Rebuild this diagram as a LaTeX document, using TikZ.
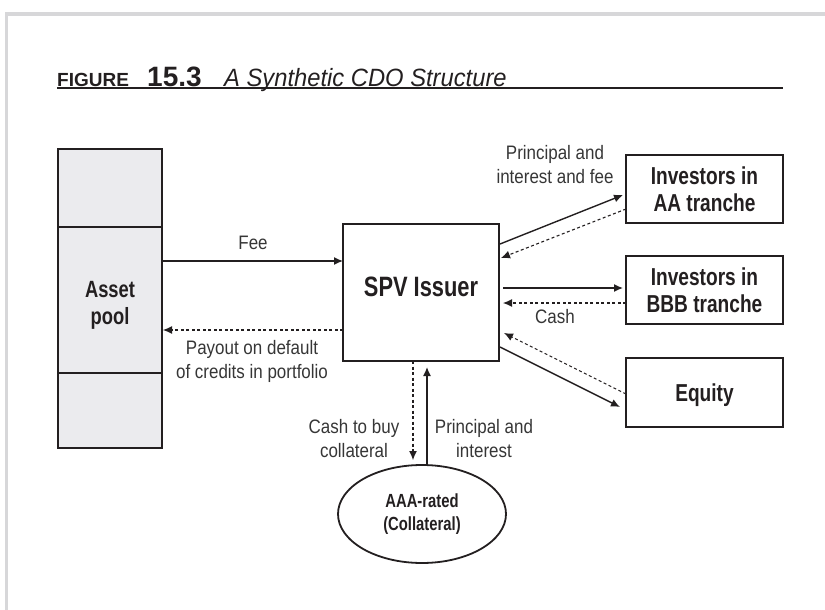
\documentclass[tikz,border=0pt]{standalone}
\usepackage{fontspec}
\setmainfont{Liberation Sans}
\newfontfamily\labfont[FakeStretch=0.87]{Liberation Sans}
\newfontfamily\bxfont[FakeStretch=0.78]{Liberation Sans}
\newfontfamily\ttlfont{Liberation Sans}
\newfontfamily\itfont[FakeStretch=0.95]{Liberation Sans}
\usetikzlibrary{arrows.meta,shapes.geometric}
\definecolor{ink}{HTML}{231F20}
\definecolor{labink}{HTML}{363636}
\definecolor{framegray}{HTML}{D7D7D9}
\definecolor{poolfill}{HTML}{EBEBEE}
\tikzset{
  box/.style={draw=ink, line width=1.8pt, rectangle, inner sep=0pt, outer sep=0pt, text=ink},
  bxtext/.style={font=\bxfont\bfseries\fontsize{24.5}{27}\selectfont, align=center, text=ink},
  lab/.style={font=\labfont\fontsize{19.5}{24}\selectfont, align=center, text=labink, inner sep=0pt},
  sol/.style={draw=ink, line width=1.4pt, -{Latex[length=9pt,width=8pt]}},
  dsh/.style={draw=ink, line width=1.1pt, dash pattern=on 3pt off 2.5pt, -{Latex[length=9pt,width=8pt]}}
}
\begin{document}
\begin{tikzpicture}[x=1pt,y=-1pt]
\useasboundingbox (0,0) rectangle (825,610);
% frame
\draw[framegray, line width=3.5pt] (5,14) -- (825,14);
\draw[framegray, line width=3.5pt] (6.5,12.25) -- (6.5,610);
% title
\node[anchor=base west, inner sep=0pt, text=ink, font=\ttlfont\bfseries\fontsize{19}{19}\selectfont] (fig) at (57,86) {FIGURE};
\node[anchor=base west, inner sep=0pt, text=ink, font=\ttlfont\bfseries\fontsize{28}{28}\selectfont] (num) at (147,86) {15.3};
\node[anchor=base west, inner sep=0pt, text=ink, font=\itfont\itshape\fontsize{25}{25}\selectfont] (ttl) at (224,86) {A Synthetic CDO Structure};
\draw[ink, line width=1.5pt] (57,88) -- (783,88);
% asset pool
\node[box, fill=poolfill, minimum width=104pt, minimum height=78pt] (pooltop) at (110,188) {};
\node[box, fill=poolfill, minimum width=104pt, minimum height=146pt] (pool) at (110,300) {};
\node[box, fill=poolfill, minimum width=104pt, minimum height=75pt] (poolbot) at (110,410.5) {};
\node[bxtext, font=\bxfont\bfseries\fontsize{23.5}{27}\selectfont, inner sep=0pt] (pooltext) at (110,305.6) {Asset\\pool};
% SPV
\node[box, minimum width=156pt, minimum height=137pt, font=\bxfont\bfseries\fontsize{28}{30}\selectfont, text depth=11pt] (spv) at (421,292.5) {SPV Issuer};
% investors
\node[box, bxtext, minimum width=157pt, minimum height=68pt] (aa) at (704.5,189) {Investors in\\AA tranche};
\node[box, bxtext, minimum width=157pt, minimum height=68pt] (bbb) at (704.5,290) {Investors in\\BBB tranche};
\node[box, bxtext, minimum width=157pt, minimum height=69pt, text depth=0pt] (eq) at (704.5,392.5) {Equity};
% collateral
\node[draw=ink, line width=1.8pt, ellipse, inner sep=0pt, outer sep=0pt, minimum width=168pt, minimum height=98pt, align=center, text=ink, font=\bxfont\bfseries\fontsize{19}{23}\selectfont] (coll) at (422,514) {AAA-rated\\(Collateral)};
% connectors
\draw[sol] ([yshift=39pt]pool.east) -- ([yshift=31.5pt]spv.west);
\draw[dsh] ([yshift=-37.5pt]spv.west) -- ([xshift=1pt,yshift=-30pt]pool.east);
\draw[sol] ([xshift=1pt,yshift=48.5pt]spv.east) -- ([xshift=-3pt,yshift=-6pt]aa.west);
\draw[dsh] ([yshift=-20pt]aa.west) -- ([xshift=2pt,yshift=34.5pt]spv.east);
\draw[sol] ([xshift=4pt,yshift=4.5pt]spv.east) -- ([xshift=-3pt,yshift=2pt]bbb.west);
\draw[dsh] ([yshift=-13pt]bbb.west) -- ([xshift=4pt,yshift=-10.5pt]spv.east);
\draw[dsh] ([yshift=-1.5pt]eq.west) -- ([xshift=5pt,yshift=-40.5pt]spv.east);
\draw[sol] ([xshift=1pt,yshift=-54.5pt]spv.east) -- ([xshift=-6pt,yshift=-14.5pt]eq.west);
\draw[dsh] ([xshift=-8pt]spv.south) -- ([xshift=-9pt,yshift=5pt]coll.north);
\draw[sol] ([xshift=5pt]coll.north) -- ([xshift=6pt,yshift=-6pt]spv.south);
% labels
\node[lab, anchor=base] (feelab) at (253,249) {Fee};
\node[lab] (payoutlab) at (252,361) {Payout on default\\of credits in portfolio};
\node[lab] (aalab) at (555,165) {Principal and\\interest and fee};
\node[lab, anchor=base] (cashlab) at (555,323) {Cash};
\node[lab] (cashbuylab) at (354,439) {Cash to buy\\collateral};
\node[lab] (pilab) at (484,439) {Principal and\\interest};
\end{tikzpicture}
\end{document}
